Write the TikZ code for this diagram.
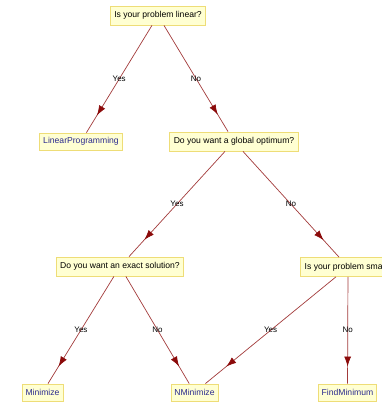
\documentclass[tikz,border=0pt]{standalone}
\usepackage{fontspec}
\setmainfont{Liberation Sans}
\usetikzlibrary{decorations.markings,arrows.meta}
\tikzset{>={Latex[length=10pt,width=7pt]}}
\definecolor{boxfill}{HTML}{FFFFD2}
\definecolor{boxline}{HTML}{EEDD77}
\definecolor{edgered}{HTML}{A23A3A}
\definecolor{tipred}{HTML}{8B0A0A}
\definecolor{leafblue}{HTML}{2B2B8F}
\tikzset{
  question/.style={draw=boxline, fill=boxfill, line width=0.8pt,
    inner xsep=4pt, minimum height=19pt, font=\fontsize{8.6}{10}\selectfont},
  answer/.style={question, text=leafblue, minimum height=17pt, inner xsep=3.5pt},
  branch/.style={edgered, line width=0.7pt,
    decoration={markings, mark=at position 0.84 with {\arrow[tipred]{>}}},
    postaction={decorate}},
  choice/.style={midway, text=black, font=\fontsize{8}{9}\selectfont},
}

\begin{document}
\begin{tikzpicture}[x=1pt,y=-1pt]
  \useasboundingbox (0,0) rectangle (382,402);
  \clip (0,0) rectangle (382,402);
  % questions
  \node[question] (linear) at (158,15.5) {Is your problem linear?};
  \node[question] (global) at (234,141.5) {Do you want a global optimum?};
  \node[question] (exact) at (120,266.5) {Do you want an exact solution?};
  \node[question] (small) at (348,267) {Is your problem small?};
  % answers
  \node[answer] (lp) at (81,141.5) {LinearProgramming};
  \node[answer] (min) at (42.5,392.5) {Minimize};
  \node[answer] (nmin) at (194.5,392.5) {NMinimize};
  \node[answer] (findmin) at (347.5,392.5) {FindMinimum};
  % branches
  \draw[branch] (linear) -- node[choice] {Yes} (lp);
  \draw[branch] (linear) -- node[choice] {No} (global);
  \draw[branch] (global) -- node[choice] {Yes} (exact);
  \draw[branch] (global) -- node[choice] {No} (small);
  \draw[branch] (exact) -- node[choice] {Yes} (min);
  \draw[branch] (exact) -- node[choice] {No} (nmin);
  \draw[branch] (small) -- node[choice] {Yes} (nmin);
  \draw[branch] (small) -- node[choice] {No} (findmin);
\end{tikzpicture}
\end{document}
